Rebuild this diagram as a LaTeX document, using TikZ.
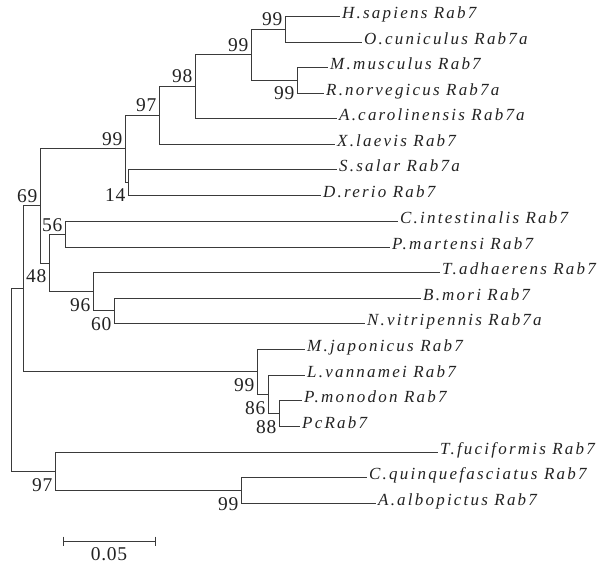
\documentclass[tikz,border=0pt]{standalone}
\usepackage{fontspec}
\setmainfont{Liberation Serif}
\newfontfamily\labfont[LetterSpace=13]{Liberation Serif}
\newfontfamily\numfont[LetterSpace=4]{Liberation Serif}
\definecolor{linec}{HTML}{3A3A3A}
\definecolor{textc}{HTML}{222222}
\tikzset{
  edge/.style={draw=linec, line width=0.9pt},
  leaf/.style={anchor=mid west, inner xsep=2pt, inner ysep=0pt, text=textc,
    font=\labfont\itshape\fontsize{17}{19}\selectfont},
  bsup/.style={anchor=base east, inner sep=0pt, xshift=-2.5pt, yshift=3pt, text=textc,
    font=\numfont\fontsize{19.5}{21}\selectfont},
  bsdown/.style={anchor=base east, inner sep=0pt, xshift=-2.5pt, yshift=-20pt, text=textc,
    font=\numfont\fontsize{19.5}{21}\selectfont},
  scalelab/.style={anchor=base, inner sep=0pt, text=textc,
    font=\numfont\fontsize{19.5}{21}\selectfont}
}
\begin{document}
\begin{tikzpicture}[x=1pt,y=-1pt]
\useasboundingbox (0,0) rectangle (600,564);
% leaves
\node[leaf] (hs)  at (340,16)  {H.sapiens Rab7};
\node[leaf] (oc)  at (362,42)  {O.cuniculus Rab7a};
\node[leaf] (mm)  at (328,67)  {M.musculus Rab7};
\node[leaf] (rn)  at (324,93)  {R.norvegicus Rab7a};
\node[leaf] (ac)  at (337,118) {A.carolinensis Rab7a};
\node[leaf] (xl)  at (335,144) {X.laevis Rab7};
\node[leaf] (ss)  at (337,169) {S.salar Rab7a};
\node[leaf] (dr)  at (321,195) {D.rerio Rab7};
\node[leaf] (ci)  at (398,221) {C.intestinalis Rab7};
\node[leaf] (pm)  at (390,247) {P.martensi Rab7};
\node[leaf] (ta)  at (440,272) {T.adhaerens Rab7};
\node[leaf] (bm)  at (421,298) {B.mori Rab7};
\node[leaf] (nv)  at (365,323) {N.vitripennis Rab7a};
\node[leaf] (mj)  at (305,349) {M.japonicus Rab7};
\node[leaf] (lv)  at (305,375) {L.vannamei Rab7};
\node[leaf] (pmo) at (302,400) {P.monodon Rab7};
\node[leaf] (pc)  at (300,426) {PcRab7};
\node[leaf] (tf)  at (438,452) {T.fuciformis Rab7};
\node[leaf] (cq)  at (367,477) {C.quinquefasciatus Rab7};
\node[leaf] (aa)  at (376,503) {A.albopictus Rab7};
% internal nodes
\coordinate (nHO)  at (285,29);
\coordinate (nMR)  at (297,80);
\coordinate (nMam) at (251,54.5);
\coordinate (nAc)  at (195,86);
\coordinate (nXl)  at (159,115);
\coordinate (nSD)  at (128,182);
\coordinate (nVt)  at (125,148.5);
\coordinate (nCP)  at (65,234.5);
\coordinate (nBN)  at (114,310.5);
\coordinate (nTa)  at (93,291.5);
\coordinate (n48)  at (49,263);
\coordinate (n69)  at (40,205.75);
\coordinate (nPP)  at (279,413);
\coordinate (n86)  at (268,394);
\coordinate (nCr)  at (257,371.5);
\coordinate (nIn)  at (23,288.6);
\coordinate (nCA)  at (241,490);
\coordinate (n97)  at (55,471.5);
\coordinate (root) at (11,380);
% edges
\draw[edge] (nHO) |- (hs.mid west);
\draw[edge] (nHO) |- (oc.mid west);
\draw[edge] (nMR) |- (mm.mid west);
\draw[edge] (nMR) |- (rn.mid west);
\draw[edge] (nMam) |- (nHO);
\draw[edge] (nMam) |- (nMR);
\draw[edge] (nAc) |- (nMam);
\draw[edge] (nAc) |- (ac.mid west);
\draw[edge] (nXl) |- (nAc);
\draw[edge] (nXl) |- (xl.mid west);
\draw[edge] (nSD) |- (ss.mid west);
\draw[edge] (nSD) |- (dr.mid west);
\draw[edge] (nVt) |- (nXl);
\draw[edge] (nVt) |- (nSD);
\draw[edge] (nCP) |- (ci.mid west);
\draw[edge] (nCP) |- (pm.mid west);
\draw[edge] (nBN) |- (bm.mid west);
\draw[edge] (nBN) |- (nv.mid west);
\draw[edge] (nTa) |- (ta.mid west);
\draw[edge] (nTa) |- (nBN);
\draw[edge] (n48) |- (nCP);
\draw[edge] (n48) |- (nTa);
\draw[edge] (n69) |- (nVt);
\draw[edge] (n69) |- (n48);
\draw[edge] (nPP) |- (pmo.mid west);
\draw[edge] (nPP) |- (pc.mid west);
\draw[edge] (n86) |- (lv.mid west);
\draw[edge] (n86) |- (nPP);
\draw[edge] (nCr) |- (mj.mid west);
\draw[edge] (nCr) |- (n86);
\draw[edge] (nIn) |- (n69);
\draw[edge] (nIn) |- (nCr);
\draw[edge] (nCA) |- (cq.mid west);
\draw[edge] (nCA) |- (aa.mid west);
\draw[edge] (n97) |- (tf.mid west);
\draw[edge] (n97) |- (nCA);
\draw[edge] (root) |- (nIn);
\draw[edge] (root) |- (n97);
% bootstrap values
\node[bsup] (bHO) at (nHO) {99};
\node[bsup] (bMam) at (nMam) {99};
\node[bsup] (bAc) at (nAc) {98};
\node[bsup] (bXl) at (nXl) {97};
\node[bsup] (bVt) at (nVt) {99};
\node[bsup] (b69) at (n69) {69};
\node[bsup] (bCP) at (nCP) {56};
\node[bsdown] (bMR) at (nMR) {99};
\node[bsdown] (bSD) at (nSD) {14};
\node[bsdown] (b48) at (n48) {48};
\node[bsdown] (bTa) at (nTa) {96};
\node[bsdown] (bBN) at (nBN) {60};
\node[bsdown] (bCr) at (nCr) {99};
\node[bsdown] (b86) at (n86) {86};
\node[bsdown] (bPP) at (nPP) {88};
\node[bsdown] (b97) at (n97) {97};
\node[bsdown] (bCA) at (nCA) {99};
% scale bar
\coordinate (sbA) at (63,541);
\coordinate (sbB) at (155,541);
\draw[edge] (sbA) -- (sbB);
\draw[edge] ([yshift=4.5pt]sbA) -- ([yshift=-4.5pt]sbA);
\draw[edge] ([yshift=4.5pt]sbB) -- ([yshift=-4.5pt]sbB);
\node[scalelab] (sbl) at (109,560.5) {0.05};
\end{tikzpicture}
\end{document}
